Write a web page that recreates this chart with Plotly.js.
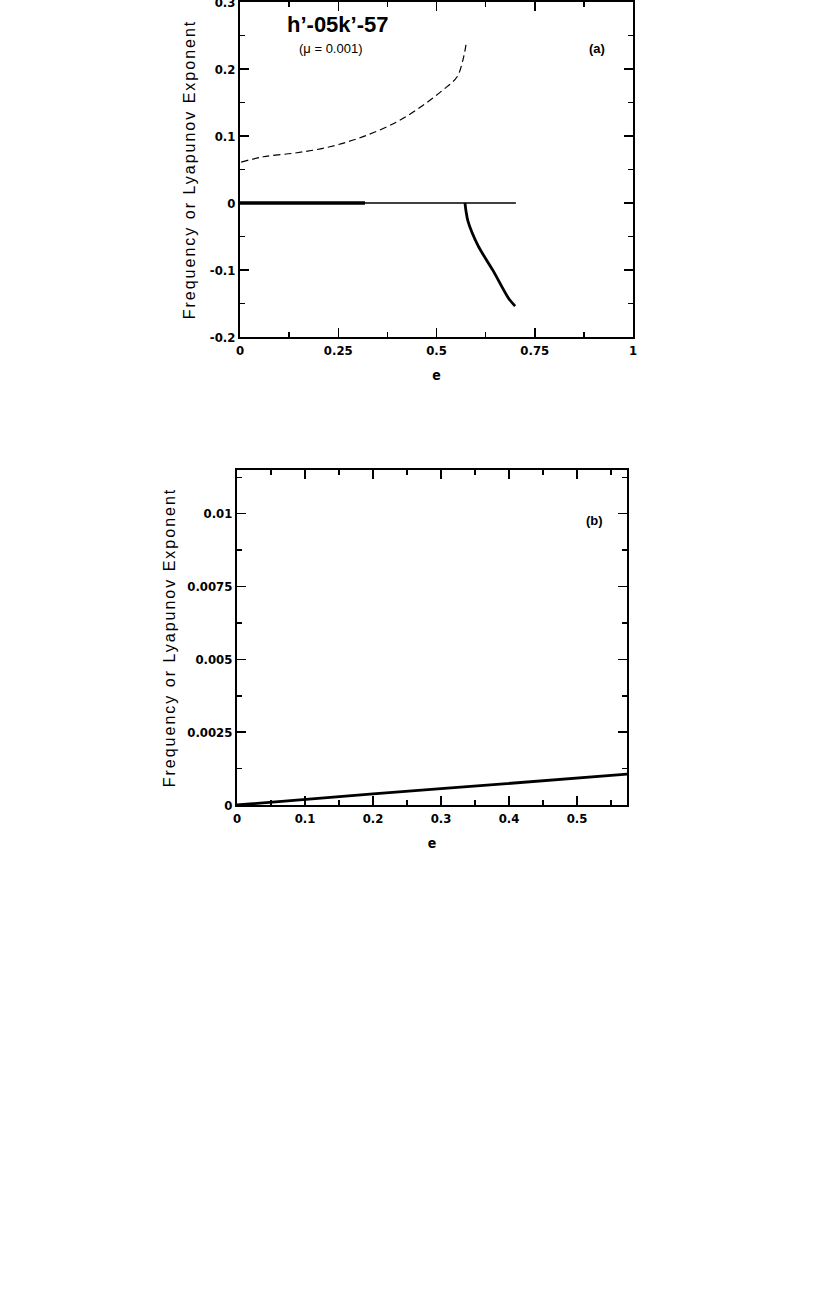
<!DOCTYPE html>
<html>
<head>
<meta charset="utf-8">
<script src="https://cdn.plot.ly/plotly-3.0.1.min.js"></script>
<style>
html,body{margin:0;padding:0;background:#fff;}
#chart{width:830px;height:1314px;}
.ytitle, .y2title{letter-spacing:2px;}
</style>
</head>
<body>
<div id="chart"></div>
<script>
// ---- Panel (a) data ----
const freqE   = [0.003, 0.059, 0.145, 0.229, 0.313, 0.399, 0.466, 0.517, 0.552, 0.567, 0.575];
const freqY   = [0.061, 0.069, 0.075, 0.084, 0.099, 0.121, 0.146, 0.169, 0.188, 0.213, 0.236];
const zeroThickE = [0, 0.318];
const zeroThickY = [0, 0];
const zeroThinE  = [0, 0.702];
const zeroThinY  = [0, 0];
const lyapE   = [0.5725, 0.575, 0.580, 0.606, 0.644, 0.682, 0.700];
const lyapY   = [0.000, -0.012, -0.027, -0.064, -0.101, -0.141, -0.154];
const xTicksA = [0, 0.25, 0.5, 0.75, 1];
const xTickTextA = ['0', '0.25', '0.5', '0.75', '1'];
const yTicksA = [-0.2, -0.1, 0, 0.1, 0.2, 0.3];
const yTickTextA = ['-0.2', '-0.1', '0', '0.1', '0.2', '0.3'];

// ---- Panel (b) data ----
const bE = [0, 0.1, 0.2, 0.3, 0.4, 0.5, 0.575];
const bY = [0, 0.0002, 0.00038, 0.00056, 0.00074, 0.00092, 0.00106];
const xTicksB = [0, 0.1, 0.2, 0.3, 0.4, 0.5];
const xTickTextB = ['0', '0.1', '0.2', '0.3', '0.4', '0.5'];
const yTicksB = [0, 0.0025, 0.005, 0.0075, 0.01];
const yTickTextB = ['0', '0.0025', '0.005', '0.0075', '0.01'];

const W = 830, H = 1314;
const px = v => v / W;
const py = v => 1 - v / H;

const narrow = '"DejaVu Sans Condensed", "Liberation Sans Narrow", Arial, sans-serif';
const lib = '"Liberation Sans", Arial, sans-serif';
const tickFont = {family: narrow, size: 13, color: '#000', weight: 'bold'};
const titleFont = {family: lib, size: 16, color: '#000'};

function axisBase(extra) {
  return Object.assign({
    showline: true, linecolor: '#000', linewidth: 2, mirror: 'ticks',
    ticks: 'inside', ticklen: 9, tickwidth: 1.5, tickcolor: '#000',
    showgrid: false, zeroline: false, tickfont: tickFont, automargin: false,
    ticklabeloverflow: 'allow'
  }, extra);
}
function minorTicks(vals) {
  return {tickvals: vals, ticks: 'inside', ticklen: 5, tickwidth: 1.5, tickcolor: '#000', showgrid: false};
}

const traces = [
  {x: freqE, y: freqY, xaxis: 'x', yaxis: 'y', mode: 'lines', line: {color: '#000', width: 1.2, dash: '7px,4px', shape: 'spline', smoothing: 1}, hoverinfo: 'skip'},
  {x: zeroThinE, y: zeroThinY, xaxis: 'x', yaxis: 'y', mode: 'lines', line: {color: '#000', width: 1.5}, hoverinfo: 'skip'},
  {x: zeroThickE, y: zeroThickY, xaxis: 'x', yaxis: 'y', mode: 'lines', line: {color: '#000', width: 3.5}, hoverinfo: 'skip'},
  {x: lyapE, y: lyapY, xaxis: 'x', yaxis: 'y', mode: 'lines', line: {color: '#000', width: 2.8, shape: 'spline', smoothing: 0.8}, hoverinfo: 'skip'},
  {x: bE, y: bY, xaxis: 'x2', yaxis: 'y2', mode: 'lines', line: {color: '#000', width: 2.8}, hoverinfo: 'skip'}
];

const layout = {
  width: W, height: H,
  margin: {l: 0, r: 0, t: 0, b: 0},
  paper_bgcolor: '#fff', plot_bgcolor: '#fff',
  showlegend: false,
  xaxis: axisBase({domain: [px(240), px(633)], range: [0, 1], tickvals: xTicksA, ticktext: xTickTextA,
    minor: minorTicks([0.125, 0.375, 0.625, 0.875]),
    anchor: 'y', title: {text: 'e', font: {family: narrow, size: 14, weight: 'bold', color: '#000'}, standoff: 14}}),
  yaxis: axisBase({domain: [py(337), py(2)], range: [-0.2, 0.3], tickvals: yTicksA, ticktext: yTickTextA,
    minor: minorTicks([-0.15, -0.05, 0.05, 0.15, 0.25]),
    anchor: 'x', title: {text: 'Frequency or Lyapunov Exponent', font: titleFont, standoff: 10}}),
  xaxis2: axisBase({domain: [px(237), px(627)], range: [0, 0.5735], tickvals: xTicksB, ticktext: xTickTextB,
    minor: minorTicks([0.05, 0.15, 0.25, 0.35, 0.45, 0.55]),
    anchor: 'y2', title: {text: 'e', font: {family: narrow, size: 14, weight: 'bold', color: '#000'}, standoff: 14}}),
  yaxis2: axisBase({domain: [py(805), py(470)], range: [0, 0.0115], tickvals: yTicksB, ticktext: yTickTextB,
    minor: minorTicks([0.00125, 0.00375, 0.00625, 0.00875, 0.01125]),
    anchor: 'x2', title: {text: 'Frequency or Lyapunov Exponent', font: titleFont, standoff: 8}}),
  annotations: [
    {text: 'h’-05k’-57', xref: 'paper', yref: 'paper', x: px(338), y: py(24), xanchor: 'center', yanchor: 'middle', showarrow: false,
     font: {family: lib, size: 22, weight: 'bold', color: '#000'}},
    {text: '(μ = 0.001)', xref: 'paper', yref: 'paper', x: px(331), y: py(48), xanchor: 'center', yanchor: 'middle', showarrow: false,
     font: {family: lib, size: 13, color: '#000'}},
    {text: '(a)', xref: 'paper', yref: 'paper', x: px(597), y: py(48), xanchor: 'center', yanchor: 'middle', showarrow: false,
     font: {family: lib, size: 13, weight: 'bold', color: '#000'}},
    {text: '(b)', xref: 'paper', yref: 'paper', x: px(594), y: py(520), xanchor: 'center', yanchor: 'middle', showarrow: false,
     font: {family: lib, size: 13, weight: 'bold', color: '#000'}}
  ]
};

Plotly.newPlot('chart', traces, layout, {displayModeBar: false, staticPlot: true});
</script>
</body>
</html>
